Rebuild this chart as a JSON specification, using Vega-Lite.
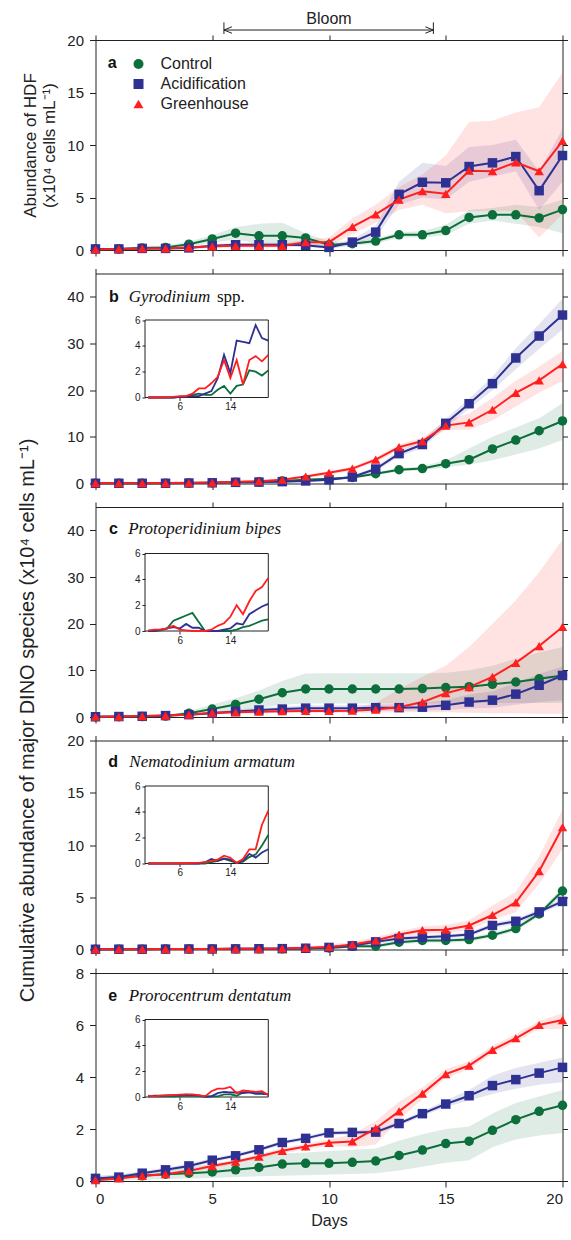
{
"$schema": "https://vega.github.io/schema/vega-lite/v6.json",
"autosize": {"type": "pad"},
"padding": {"left": 16.5, "top": 10, "right": 2, "bottom": 8},
"background": "white",
"config": {
  "view": {"stroke": "#222", "strokeWidth": 1},
  "axis": {"grid": false, "labelFont": "Liberation Sans", "titleFont": "Liberation Sans", "labelColor": "#222", "titleColor": "#222", "tickColor": "#222", "titleFontWeight": "normal", "labelFontSize": 15, "titleFontSize": 17, "tickWidth": 1},
  "text": {"font": "Liberation Sans", "color": "#111"}
},
"datasets": {
"main": [
{"p":"a","s":"Control","d":0,"v":0.1,"lo":0,"hi":0.2},{"p":"a","s":"Control","d":1,"v":0.1,"lo":0,"hi":0.2},{"p":"a","s":"Control","d":2,"v":0.2,"lo":0.05,"hi":0.35},{"p":"a","s":"Control","d":3,"v":0.25,"lo":0.1,"hi":0.45},{"p":"a","s":"Control","d":4,"v":0.55,"lo":0.3,"hi":0.8},{"p":"a","s":"Control","d":5,"v":1.05,"lo":0.7,"hi":1.4},{"p":"a","s":"Control","d":6,"v":1.6,"lo":1.0,"hi":2.2},{"p":"a","s":"Control","d":7,"v":1.35,"lo":0.6,"hi":2.5},{"p":"a","s":"Control","d":8,"v":1.35,"lo":0.5,"hi":2.6},{"p":"a","s":"Control","d":9,"v":1.15,"lo":0.7,"hi":1.6},{"p":"a","s":"Control","d":10,"v":0.5,"lo":0.2,"hi":0.8},{"p":"a","s":"Control","d":11,"v":0.6,"lo":0.4,"hi":0.8},{"p":"a","s":"Control","d":12,"v":0.85,"lo":0.6,"hi":1.1},{"p":"a","s":"Control","d":13,"v":1.45,"lo":1.2,"hi":1.7},{"p":"a","s":"Control","d":14,"v":1.45,"lo":1.2,"hi":1.8},{"p":"a","s":"Control","d":15,"v":1.85,"lo":1.4,"hi":2.4},{"p":"a","s":"Control","d":16,"v":3.1,"lo":2.5,"hi":3.8},{"p":"a","s":"Control","d":17,"v":3.35,"lo":2.8,"hi":4.0},{"p":"a","s":"Control","d":18,"v":3.35,"lo":2.5,"hi":4.3},{"p":"a","s":"Control","d":19,"v":3.05,"lo":2.2,"hi":4.1},{"p":"a","s":"Control","d":20,"v":3.85,"lo":1.6,"hi":4.8},
{"p":"a","s":"Acidification","d":0,"v":0.1,"lo":0,"hi":0.2},{"p":"a","s":"Acidification","d":1,"v":0.1,"lo":0,"hi":0.2},{"p":"a","s":"Acidification","d":2,"v":0.15,"lo":0.05,"hi":0.25},{"p":"a","s":"Acidification","d":3,"v":0.15,"lo":0.05,"hi":0.25},{"p":"a","s":"Acidification","d":4,"v":0.2,"lo":0.1,"hi":0.3},{"p":"a","s":"Acidification","d":5,"v":0.4,"lo":0.25,"hi":0.55},{"p":"a","s":"Acidification","d":6,"v":0.5,"lo":0.3,"hi":0.7},{"p":"a","s":"Acidification","d":7,"v":0.5,"lo":0.3,"hi":0.7},{"p":"a","s":"Acidification","d":8,"v":0.5,"lo":0.3,"hi":0.7},{"p":"a","s":"Acidification","d":9,"v":0.45,"lo":0.3,"hi":0.6},{"p":"a","s":"Acidification","d":10,"v":0.25,"lo":0.1,"hi":0.4},{"p":"a","s":"Acidification","d":11,"v":0.75,"lo":0.5,"hi":1.0},{"p":"a","s":"Acidification","d":12,"v":1.7,"lo":1.2,"hi":2.3},{"p":"a","s":"Acidification","d":13,"v":5.3,"lo":4.3,"hi":6.5},{"p":"a","s":"Acidification","d":14,"v":6.45,"lo":5.0,"hi":8.3},{"p":"a","s":"Acidification","d":15,"v":6.4,"lo":4.8,"hi":8.0},{"p":"a","s":"Acidification","d":16,"v":7.95,"lo":6.5,"hi":9.8},{"p":"a","s":"Acidification","d":17,"v":8.3,"lo":7.0,"hi":10.0},{"p":"a","s":"Acidification","d":18,"v":8.9,"lo":7.5,"hi":10.5},{"p":"a","s":"Acidification","d":19,"v":5.65,"lo":3.8,"hi":7.5},{"p":"a","s":"Acidification","d":20,"v":9.0,"lo":6.5,"hi":11.5},
{"p":"a","s":"Greenhouse","d":0,"v":0.05,"lo":0,"hi":0.1},{"p":"a","s":"Greenhouse","d":1,"v":0.1,"lo":0,"hi":0.2},{"p":"a","s":"Greenhouse","d":2,"v":0.15,"lo":0.05,"hi":0.25},{"p":"a","s":"Greenhouse","d":3,"v":0.15,"lo":0.05,"hi":0.25},{"p":"a","s":"Greenhouse","d":4,"v":0.25,"lo":0.1,"hi":0.4},{"p":"a","s":"Greenhouse","d":5,"v":0.35,"lo":0.2,"hi":0.5},{"p":"a","s":"Greenhouse","d":6,"v":0.4,"lo":0.25,"hi":0.55},{"p":"a","s":"Greenhouse","d":7,"v":0.4,"lo":0.25,"hi":0.55},{"p":"a","s":"Greenhouse","d":8,"v":0.4,"lo":0.25,"hi":0.6},{"p":"a","s":"Greenhouse","d":9,"v":0.75,"lo":0.5,"hi":1.0},{"p":"a","s":"Greenhouse","d":10,"v":0.75,"lo":0.4,"hi":1.2},{"p":"a","s":"Greenhouse","d":11,"v":2.2,"lo":1.5,"hi":3.0},{"p":"a","s":"Greenhouse","d":12,"v":3.4,"lo":2.6,"hi":4.3},{"p":"a","s":"Greenhouse","d":13,"v":4.8,"lo":3.8,"hi":6.0},{"p":"a","s":"Greenhouse","d":14,"v":5.6,"lo":4.3,"hi":7.2},{"p":"a","s":"Greenhouse","d":15,"v":5.35,"lo":3.5,"hi":9.0},{"p":"a","s":"Greenhouse","d":16,"v":7.55,"lo":3.7,"hi":12.2},{"p":"a","s":"Greenhouse","d":17,"v":7.5,"lo":3.7,"hi":12.3},{"p":"a","s":"Greenhouse","d":18,"v":8.35,"lo":3.7,"hi":13.1},{"p":"a","s":"Greenhouse","d":19,"v":7.5,"lo":1.2,"hi":13.6},{"p":"a","s":"Greenhouse","d":20,"v":10.4,"lo":3.4,"hi":16.9},
{"p":"b","s":"Control","d":0,"v":0.05,"lo":0,"hi":0.1},{"p":"b","s":"Control","d":1,"v":0.05,"lo":0,"hi":0.1},{"p":"b","s":"Control","d":2,"v":0.05,"lo":0,"hi":0.1},{"p":"b","s":"Control","d":3,"v":0.05,"lo":0,"hi":0.1},{"p":"b","s":"Control","d":4,"v":0.1,"lo":0,"hi":0.2},{"p":"b","s":"Control","d":5,"v":0.15,"lo":0.05,"hi":0.25},{"p":"b","s":"Control","d":6,"v":0.25,"lo":0.1,"hi":0.4},{"p":"b","s":"Control","d":7,"v":0.35,"lo":0.2,"hi":0.5},{"p":"b","s":"Control","d":8,"v":0.55,"lo":0.35,"hi":0.75},{"p":"b","s":"Control","d":9,"v":0.8,"lo":0.55,"hi":1.05},{"p":"b","s":"Control","d":10,"v":1.0,"lo":0.7,"hi":1.3},{"p":"b","s":"Control","d":11,"v":1.3,"lo":1.0,"hi":1.6},{"p":"b","s":"Control","d":12,"v":2.1,"lo":1.8,"hi":2.4},{"p":"b","s":"Control","d":13,"v":2.95,"lo":2.6,"hi":3.3},{"p":"b","s":"Control","d":14,"v":3.2,"lo":2.8,"hi":3.7},{"p":"b","s":"Control","d":15,"v":4.25,"lo":3.5,"hi":5.0},{"p":"b","s":"Control","d":16,"v":5.1,"lo":4.0,"hi":7.5},{"p":"b","s":"Control","d":17,"v":7.4,"lo":5.0,"hi":10.0},{"p":"b","s":"Control","d":18,"v":9.3,"lo":6.2,"hi":12.0},{"p":"b","s":"Control","d":19,"v":11.3,"lo":7.5,"hi":14.0},{"p":"b","s":"Control","d":20,"v":13.4,"lo":9.3,"hi":17.2},
{"p":"b","s":"Acidification","d":0,"v":0.05,"lo":0,"hi":0.1},{"p":"b","s":"Acidification","d":1,"v":0.05,"lo":0,"hi":0.1},{"p":"b","s":"Acidification","d":2,"v":0.05,"lo":0,"hi":0.1},{"p":"b","s":"Acidification","d":3,"v":0.05,"lo":0,"hi":0.1},{"p":"b","s":"Acidification","d":4,"v":0.1,"lo":0,"hi":0.2},{"p":"b","s":"Acidification","d":5,"v":0.15,"lo":0.05,"hi":0.25},{"p":"b","s":"Acidification","d":6,"v":0.25,"lo":0.1,"hi":0.4},{"p":"b","s":"Acidification","d":7,"v":0.3,"lo":0.15,"hi":0.45},{"p":"b","s":"Acidification","d":8,"v":0.4,"lo":0.25,"hi":0.55},{"p":"b","s":"Acidification","d":9,"v":0.55,"lo":0.35,"hi":0.75},{"p":"b","s":"Acidification","d":10,"v":0.8,"lo":0.55,"hi":1.05},{"p":"b","s":"Acidification","d":11,"v":1.4,"lo":1.1,"hi":1.7},{"p":"b","s":"Acidification","d":12,"v":3.1,"lo":2.6,"hi":3.6},{"p":"b","s":"Acidification","d":13,"v":6.4,"lo":5.8,"hi":7.0},{"p":"b","s":"Acidification","d":14,"v":8.35,"lo":7.6,"hi":9.1},{"p":"b","s":"Acidification","d":15,"v":12.9,"lo":12.0,"hi":13.8},{"p":"b","s":"Acidification","d":16,"v":17.1,"lo":16.0,"hi":18.2},{"p":"b","s":"Acidification","d":17,"v":21.4,"lo":20.0,"hi":22.8},{"p":"b","s":"Acidification","d":18,"v":26.9,"lo":24.5,"hi":29.0},{"p":"b","s":"Acidification","d":19,"v":31.6,"lo":28.8,"hi":34.2},{"p":"b","s":"Acidification","d":20,"v":36.1,"lo":33.0,"hi":39.6},
{"p":"b","s":"Greenhouse","d":0,"v":0.05,"lo":0,"hi":0.1},{"p":"b","s":"Greenhouse","d":1,"v":0.05,"lo":0,"hi":0.1},{"p":"b","s":"Greenhouse","d":2,"v":0.07,"lo":0,"hi":0.15},{"p":"b","s":"Greenhouse","d":3,"v":0.1,"lo":0,"hi":0.2},{"p":"b","s":"Greenhouse","d":4,"v":0.15,"lo":0.05,"hi":0.25},{"p":"b","s":"Greenhouse","d":5,"v":0.2,"lo":0.1,"hi":0.3},{"p":"b","s":"Greenhouse","d":6,"v":0.35,"lo":0.2,"hi":0.5},{"p":"b","s":"Greenhouse","d":7,"v":0.5,"lo":0.3,"hi":0.7},{"p":"b","s":"Greenhouse","d":8,"v":0.8,"lo":0.55,"hi":1.05},{"p":"b","s":"Greenhouse","d":9,"v":1.5,"lo":1.2,"hi":1.8},{"p":"b","s":"Greenhouse","d":10,"v":2.3,"lo":1.9,"hi":2.7},{"p":"b","s":"Greenhouse","d":11,"v":3.2,"lo":2.8,"hi":3.6},{"p":"b","s":"Greenhouse","d":12,"v":5.1,"lo":4.6,"hi":5.6},{"p":"b","s":"Greenhouse","d":13,"v":7.8,"lo":7.2,"hi":8.4},{"p":"b","s":"Greenhouse","d":14,"v":9.1,"lo":8.5,"hi":9.8},{"p":"b","s":"Greenhouse","d":15,"v":12.4,"lo":11.5,"hi":13.5},{"p":"b","s":"Greenhouse","d":16,"v":13.1,"lo":11.5,"hi":15.0},{"p":"b","s":"Greenhouse","d":17,"v":15.8,"lo":13.5,"hi":18.3},{"p":"b","s":"Greenhouse","d":18,"v":19.4,"lo":16.5,"hi":22.0},{"p":"b","s":"Greenhouse","d":19,"v":22.1,"lo":19.5,"hi":25.0},{"p":"b","s":"Greenhouse","d":20,"v":25.6,"lo":21.9,"hi":28.4},
{"p":"c","s":"Control","d":0,"v":0.05,"lo":0,"hi":0.1},{"p":"c","s":"Control","d":1,"v":0.05,"lo":0,"hi":0.1},{"p":"c","s":"Control","d":2,"v":0.1,"lo":0,"hi":0.2},{"p":"c","s":"Control","d":3,"v":0.2,"lo":0.05,"hi":0.4},{"p":"c","s":"Control","d":4,"v":0.8,"lo":0.3,"hi":1.3},{"p":"c","s":"Control","d":5,"v":1.7,"lo":0.8,"hi":2.7},{"p":"c","s":"Control","d":6,"v":2.7,"lo":1.3,"hi":4.0},{"p":"c","s":"Control","d":7,"v":3.8,"lo":2.0,"hi":5.7},{"p":"c","s":"Control","d":8,"v":5.2,"lo":2.6,"hi":7.7},{"p":"c","s":"Control","d":9,"v":6.0,"lo":2.9,"hi":9.3},{"p":"c","s":"Control","d":10,"v":6.0,"lo":2.9,"hi":9.4},{"p":"c","s":"Control","d":11,"v":6.0,"lo":2.9,"hi":9.4},{"p":"c","s":"Control","d":12,"v":6.0,"lo":2.9,"hi":9.4},{"p":"c","s":"Control","d":13,"v":6.0,"lo":2.9,"hi":9.4},{"p":"c","s":"Control","d":14,"v":6.1,"lo":2.9,"hi":9.4},{"p":"c","s":"Control","d":15,"v":6.3,"lo":2.9,"hi":9.5},{"p":"c","s":"Control","d":16,"v":6.5,"lo":3.0,"hi":10.0},{"p":"c","s":"Control","d":17,"v":7.0,"lo":3.0,"hi":11.0},{"p":"c","s":"Control","d":18,"v":7.5,"lo":3.0,"hi":12.5},{"p":"c","s":"Control","d":19,"v":8.2,"lo":3.0,"hi":13.8},{"p":"c","s":"Control","d":20,"v":8.9,"lo":3.0,"hi":15.0},
{"p":"c","s":"Acidification","d":0,"v":0.05,"lo":0,"hi":0.1},{"p":"c","s":"Acidification","d":1,"v":0.1,"lo":0.05,"hi":0.15},{"p":"c","s":"Acidification","d":2,"v":0.15,"lo":0.1,"hi":0.2},{"p":"c","s":"Acidification","d":3,"v":0.3,"lo":0.15,"hi":0.45},{"p":"c","s":"Acidification","d":4,"v":0.5,"lo":0.3,"hi":0.7},{"p":"c","s":"Acidification","d":5,"v":0.8,"lo":0.5,"hi":1.1},{"p":"c","s":"Acidification","d":6,"v":1.2,"lo":0.8,"hi":1.6},{"p":"c","s":"Acidification","d":7,"v":1.5,"lo":1.0,"hi":2.0},{"p":"c","s":"Acidification","d":8,"v":1.7,"lo":1.2,"hi":2.2},{"p":"c","s":"Acidification","d":9,"v":1.9,"lo":1.3,"hi":2.5},{"p":"c","s":"Acidification","d":10,"v":1.9,"lo":1.3,"hi":2.5},{"p":"c","s":"Acidification","d":11,"v":1.9,"lo":1.3,"hi":2.5},{"p":"c","s":"Acidification","d":12,"v":2.0,"lo":1.3,"hi":2.7},{"p":"c","s":"Acidification","d":13,"v":2.0,"lo":1.3,"hi":2.8},{"p":"c","s":"Acidification","d":14,"v":2.1,"lo":1.4,"hi":3.0},{"p":"c","s":"Acidification","d":15,"v":2.5,"lo":1.5,"hi":3.6},{"p":"c","s":"Acidification","d":16,"v":3.2,"lo":1.8,"hi":4.8},{"p":"c","s":"Acidification","d":17,"v":3.6,"lo":2.0,"hi":5.5},{"p":"c","s":"Acidification","d":18,"v":4.9,"lo":2.6,"hi":7.3},{"p":"c","s":"Acidification","d":19,"v":6.8,"lo":3.2,"hi":9.2},{"p":"c","s":"Acidification","d":20,"v":8.9,"lo":3.6,"hi":10.8},
{"p":"c","s":"Greenhouse","d":0,"v":0.05,"lo":0,"hi":0.1},{"p":"c","s":"Greenhouse","d":1,"v":0.1,"lo":0.05,"hi":0.15},{"p":"c","s":"Greenhouse","d":2,"v":0.2,"lo":0.1,"hi":0.3},{"p":"c","s":"Greenhouse","d":3,"v":0.3,"lo":0.2,"hi":0.4},{"p":"c","s":"Greenhouse","d":4,"v":0.5,"lo":0.35,"hi":0.65},{"p":"c","s":"Greenhouse","d":5,"v":0.9,"lo":0.6,"hi":1.2},{"p":"c","s":"Greenhouse","d":6,"v":1.0,"lo":0.7,"hi":1.3},{"p":"c","s":"Greenhouse","d":7,"v":1.15,"lo":0.8,"hi":1.5},{"p":"c","s":"Greenhouse","d":8,"v":1.25,"lo":0.9,"hi":1.6},{"p":"c","s":"Greenhouse","d":9,"v":1.3,"lo":0.9,"hi":1.7},{"p":"c","s":"Greenhouse","d":10,"v":1.3,"lo":0.9,"hi":1.7},{"p":"c","s":"Greenhouse","d":11,"v":1.35,"lo":0.9,"hi":1.8},{"p":"c","s":"Greenhouse","d":12,"v":1.6,"lo":0.9,"hi":3.0},{"p":"c","s":"Greenhouse","d":13,"v":2.1,"lo":1.0,"hi":6.0},{"p":"c","s":"Greenhouse","d":14,"v":3.2,"lo":1.0,"hi":8.6},{"p":"c","s":"Greenhouse","d":15,"v":5.1,"lo":1.0,"hi":11.0},{"p":"c","s":"Greenhouse","d":16,"v":6.4,"lo":0.9,"hi":15.0},{"p":"c","s":"Greenhouse","d":17,"v":8.6,"lo":0.8,"hi":20.0},{"p":"c","s":"Greenhouse","d":18,"v":11.6,"lo":0.8,"hi":25.0},{"p":"c","s":"Greenhouse","d":19,"v":15.2,"lo":0.7,"hi":31.0},{"p":"c","s":"Greenhouse","d":20,"v":19.3,"lo":0.7,"hi":38.0},
{"p":"d","s":"Control","d":0,"v":0.02,"lo":0,"hi":0.1},{"p":"d","s":"Control","d":1,"v":0.03,"lo":0,"hi":0.1},{"p":"d","s":"Control","d":2,"v":0.03,"lo":0,"hi":0.1},{"p":"d","s":"Control","d":3,"v":0.04,"lo":0,"hi":0.1},{"p":"d","s":"Control","d":4,"v":0.05,"lo":0,"hi":0.1},{"p":"d","s":"Control","d":5,"v":0.05,"lo":0,"hi":0.1},{"p":"d","s":"Control","d":6,"v":0.06,"lo":0,"hi":0.15},{"p":"d","s":"Control","d":7,"v":0.07,"lo":0,"hi":0.15},{"p":"d","s":"Control","d":8,"v":0.08,"lo":0,"hi":0.15},{"p":"d","s":"Control","d":9,"v":0.1,"lo":0,"hi":0.2},{"p":"d","s":"Control","d":10,"v":0.15,"lo":0.05,"hi":0.25},{"p":"d","s":"Control","d":11,"v":0.3,"lo":0.15,"hi":0.45},{"p":"d","s":"Control","d":12,"v":0.32,"lo":0.15,"hi":0.5},{"p":"d","s":"Control","d":13,"v":0.7,"lo":0.5,"hi":0.9},{"p":"d","s":"Control","d":14,"v":0.86,"lo":0.65,"hi":1.05},{"p":"d","s":"Control","d":15,"v":0.86,"lo":0.65,"hi":1.05},{"p":"d","s":"Control","d":16,"v":0.95,"lo":0.75,"hi":1.15},{"p":"d","s":"Control","d":17,"v":1.37,"lo":1.15,"hi":1.6},{"p":"d","s":"Control","d":18,"v":2.0,"lo":1.75,"hi":2.25},{"p":"d","s":"Control","d":19,"v":3.4,"lo":3.15,"hi":3.65},{"p":"d","s":"Control","d":20,"v":5.6,"lo":5.25,"hi":5.95},
{"p":"d","s":"Acidification","d":0,"v":0.02,"lo":0,"hi":0.1},{"p":"d","s":"Acidification","d":1,"v":0.03,"lo":0,"hi":0.1},{"p":"d","s":"Acidification","d":2,"v":0.03,"lo":0,"hi":0.1},{"p":"d","s":"Acidification","d":3,"v":0.04,"lo":0,"hi":0.1},{"p":"d","s":"Acidification","d":4,"v":0.05,"lo":0,"hi":0.1},{"p":"d","s":"Acidification","d":5,"v":0.05,"lo":0,"hi":0.1},{"p":"d","s":"Acidification","d":6,"v":0.06,"lo":0,"hi":0.15},{"p":"d","s":"Acidification","d":7,"v":0.07,"lo":0,"hi":0.15},{"p":"d","s":"Acidification","d":8,"v":0.08,"lo":0,"hi":0.15},{"p":"d","s":"Acidification","d":9,"v":0.12,"lo":0,"hi":0.25},{"p":"d","s":"Acidification","d":10,"v":0.2,"lo":0.05,"hi":0.35},{"p":"d","s":"Acidification","d":11,"v":0.35,"lo":0.2,"hi":0.5},{"p":"d","s":"Acidification","d":12,"v":0.73,"lo":0.55,"hi":0.9},{"p":"d","s":"Acidification","d":13,"v":1.05,"lo":0.85,"hi":1.25},{"p":"d","s":"Acidification","d":14,"v":1.18,"lo":0.98,"hi":1.38},{"p":"d","s":"Acidification","d":15,"v":1.27,"lo":1.07,"hi":1.47},{"p":"d","s":"Acidification","d":16,"v":1.43,"lo":1.23,"hi":1.63},{"p":"d","s":"Acidification","d":17,"v":2.3,"lo":2.05,"hi":2.55},{"p":"d","s":"Acidification","d":18,"v":2.7,"lo":2.45,"hi":2.95},{"p":"d","s":"Acidification","d":19,"v":3.6,"lo":3.35,"hi":3.85},{"p":"d","s":"Acidification","d":20,"v":4.6,"lo":4.35,"hi":4.85},
{"p":"d","s":"Greenhouse","d":0,"v":0.02,"lo":0,"hi":0.1},{"p":"d","s":"Greenhouse","d":1,"v":0.03,"lo":0,"hi":0.1},{"p":"d","s":"Greenhouse","d":2,"v":0.03,"lo":0,"hi":0.1},{"p":"d","s":"Greenhouse","d":3,"v":0.04,"lo":0,"hi":0.1},{"p":"d","s":"Greenhouse","d":4,"v":0.05,"lo":0,"hi":0.1},{"p":"d","s":"Greenhouse","d":5,"v":0.05,"lo":0,"hi":0.1},{"p":"d","s":"Greenhouse","d":6,"v":0.06,"lo":0,"hi":0.15},{"p":"d","s":"Greenhouse","d":7,"v":0.07,"lo":0,"hi":0.2},{"p":"d","s":"Greenhouse","d":8,"v":0.1,"lo":0,"hi":0.25},{"p":"d","s":"Greenhouse","d":9,"v":0.16,"lo":0.05,"hi":0.3},{"p":"d","s":"Greenhouse","d":10,"v":0.25,"lo":0.1,"hi":0.45},{"p":"d","s":"Greenhouse","d":11,"v":0.48,"lo":0.3,"hi":0.75},{"p":"d","s":"Greenhouse","d":12,"v":0.86,"lo":0.6,"hi":1.2},{"p":"d","s":"Greenhouse","d":13,"v":1.43,"lo":1.15,"hi":1.75},{"p":"d","s":"Greenhouse","d":14,"v":1.85,"lo":1.5,"hi":2.2},{"p":"d","s":"Greenhouse","d":15,"v":1.9,"lo":1.5,"hi":2.35},{"p":"d","s":"Greenhouse","d":16,"v":2.3,"lo":1.9,"hi":2.8},{"p":"d","s":"Greenhouse","d":17,"v":3.3,"lo":2.8,"hi":4.2},{"p":"d","s":"Greenhouse","d":18,"v":4.5,"lo":3.6,"hi":5.5},{"p":"d","s":"Greenhouse","d":19,"v":7.5,"lo":6.3,"hi":8.9},{"p":"d","s":"Greenhouse","d":20,"v":11.7,"lo":9.6,"hi":13.4},
{"p":"e","s":"Control","d":0,"v":0.1,"lo":0,"hi":0.2},{"p":"e","s":"Control","d":1,"v":0.13,"lo":0.02,"hi":0.25},{"p":"e","s":"Control","d":2,"v":0.2,"lo":0.05,"hi":0.35},{"p":"e","s":"Control","d":3,"v":0.26,"lo":0.08,"hi":0.45},{"p":"e","s":"Control","d":4,"v":0.3,"lo":0.1,"hi":0.55},{"p":"e","s":"Control","d":5,"v":0.35,"lo":0.12,"hi":0.65},{"p":"e","s":"Control","d":6,"v":0.43,"lo":0.15,"hi":0.8},{"p":"e","s":"Control","d":7,"v":0.52,"lo":0.18,"hi":0.95},{"p":"e","s":"Control","d":8,"v":0.65,"lo":0.2,"hi":1.05},{"p":"e","s":"Control","d":9,"v":0.68,"lo":0.22,"hi":1.1},{"p":"e","s":"Control","d":10,"v":0.68,"lo":0.25,"hi":1.15},{"p":"e","s":"Control","d":11,"v":0.72,"lo":0.27,"hi":1.2},{"p":"e","s":"Control","d":12,"v":0.77,"lo":0.3,"hi":1.25},{"p":"e","s":"Control","d":13,"v":0.98,"lo":0.4,"hi":1.55},{"p":"e","s":"Control","d":14,"v":1.19,"lo":0.55,"hi":1.8},{"p":"e","s":"Control","d":15,"v":1.44,"lo":0.7,"hi":2.0},{"p":"e","s":"Control","d":16,"v":1.53,"lo":0.8,"hi":2.1},{"p":"e","s":"Control","d":17,"v":1.95,"lo":1.3,"hi":2.6},{"p":"e","s":"Control","d":18,"v":2.36,"lo":1.6,"hi":3.0},{"p":"e","s":"Control","d":19,"v":2.68,"lo":1.75,"hi":3.25},{"p":"e","s":"Control","d":20,"v":2.91,"lo":1.85,"hi":3.5},
{"p":"e","s":"Acidification","d":0,"v":0.1,"lo":0.02,"hi":0.18},{"p":"e","s":"Acidification","d":1,"v":0.15,"lo":0.07,"hi":0.23},{"p":"e","s":"Acidification","d":2,"v":0.3,"lo":0.22,"hi":0.38},{"p":"e","s":"Acidification","d":3,"v":0.43,"lo":0.35,"hi":0.51},{"p":"e","s":"Acidification","d":4,"v":0.58,"lo":0.5,"hi":0.66},{"p":"e","s":"Acidification","d":5,"v":0.8,"lo":0.72,"hi":0.88},{"p":"e","s":"Acidification","d":6,"v":0.97,"lo":0.89,"hi":1.05},{"p":"e","s":"Acidification","d":7,"v":1.2,"lo":1.12,"hi":1.28},{"p":"e","s":"Acidification","d":8,"v":1.48,"lo":1.4,"hi":1.56},{"p":"e","s":"Acidification","d":9,"v":1.64,"lo":1.56,"hi":1.72},{"p":"e","s":"Acidification","d":10,"v":1.85,"lo":1.77,"hi":1.93},{"p":"e","s":"Acidification","d":11,"v":1.87,"lo":1.79,"hi":1.95},{"p":"e","s":"Acidification","d":12,"v":1.88,"lo":1.8,"hi":1.96},{"p":"e","s":"Acidification","d":13,"v":2.21,"lo":2.12,"hi":2.3},{"p":"e","s":"Acidification","d":14,"v":2.59,"lo":2.5,"hi":2.68},{"p":"e","s":"Acidification","d":15,"v":2.96,"lo":2.85,"hi":3.1},{"p":"e","s":"Acidification","d":16,"v":3.28,"lo":3.1,"hi":3.5},{"p":"e","s":"Acidification","d":17,"v":3.67,"lo":3.35,"hi":4.05},{"p":"e","s":"Acidification","d":18,"v":3.9,"lo":3.55,"hi":4.35},{"p":"e","s":"Acidification","d":19,"v":4.15,"lo":3.7,"hi":4.55},{"p":"e","s":"Acidification","d":20,"v":4.37,"lo":3.8,"hi":4.75},
{"p":"e","s":"Greenhouse","d":0,"v":0.03,"lo":0,"hi":0.08},{"p":"e","s":"Greenhouse","d":1,"v":0.1,"lo":0.05,"hi":0.15},{"p":"e","s":"Greenhouse","d":2,"v":0.2,"lo":0.15,"hi":0.25},{"p":"e","s":"Greenhouse","d":3,"v":0.26,"lo":0.2,"hi":0.32},{"p":"e","s":"Greenhouse","d":4,"v":0.39,"lo":0.32,"hi":0.46},{"p":"e","s":"Greenhouse","d":5,"v":0.58,"lo":0.5,"hi":0.66},{"p":"e","s":"Greenhouse","d":6,"v":0.74,"lo":0.66,"hi":0.82},{"p":"e","s":"Greenhouse","d":7,"v":0.94,"lo":0.85,"hi":1.03},{"p":"e","s":"Greenhouse","d":8,"v":1.16,"lo":1.06,"hi":1.26},{"p":"e","s":"Greenhouse","d":9,"v":1.33,"lo":1.22,"hi":1.44},{"p":"e","s":"Greenhouse","d":10,"v":1.47,"lo":1.35,"hi":1.6},{"p":"e","s":"Greenhouse","d":11,"v":1.52,"lo":1.3,"hi":1.8},{"p":"e","s":"Greenhouse","d":12,"v":2.02,"lo":1.4,"hi":2.3},{"p":"e","s":"Greenhouse","d":13,"v":2.68,"lo":2.35,"hi":3.05},{"p":"e","s":"Greenhouse","d":14,"v":3.36,"lo":3.15,"hi":3.6},{"p":"e","s":"Greenhouse","d":15,"v":4.11,"lo":3.95,"hi":4.3},{"p":"e","s":"Greenhouse","d":16,"v":4.44,"lo":4.3,"hi":4.6},{"p":"e","s":"Greenhouse","d":17,"v":5.04,"lo":4.9,"hi":5.2},{"p":"e","s":"Greenhouse","d":18,"v":5.49,"lo":5.35,"hi":5.65},{"p":"e","s":"Greenhouse","d":19,"v":6.0,"lo":5.85,"hi":6.15},{"p":"e","s":"Greenhouse","d":20,"v":6.19,"lo":5.85,"hi":6.45}
],
"inset": [
{"p":"b","s":"Control","d":1,"v":0},{"p":"b","s":"Control","d":2,"v":0},{"p":"b","s":"Control","d":3,"v":0},{"p":"b","s":"Control","d":4,"v":0},{"p":"b","s":"Control","d":5,"v":0},{"p":"b","s":"Control","d":6,"v":0.05},{"p":"b","s":"Control","d":7,"v":0.1},{"p":"b","s":"Control","d":8,"v":0.2},{"p":"b","s":"Control","d":9,"v":0.3},{"p":"b","s":"Control","d":10,"v":0.2},{"p":"b","s":"Control","d":11,"v":0.2},{"p":"b","s":"Control","d":12,"v":0.6},{"p":"b","s":"Control","d":13,"v":0.9},{"p":"b","s":"Control","d":14,"v":0.3},{"p":"b","s":"Control","d":15,"v":0.9},{"p":"b","s":"Control","d":16,"v":1.0},{"p":"b","s":"Control","d":17,"v":2.1},{"p":"b","s":"Control","d":18,"v":2.0},{"p":"b","s":"Control","d":19,"v":1.7},{"p":"b","s":"Control","d":20,"v":2.1},
{"p":"b","s":"Acidification","d":1,"v":0},{"p":"b","s":"Acidification","d":2,"v":0},{"p":"b","s":"Acidification","d":3,"v":0},{"p":"b","s":"Acidification","d":4,"v":0},{"p":"b","s":"Acidification","d":5,"v":0},{"p":"b","s":"Acidification","d":6,"v":0.05},{"p":"b","s":"Acidification","d":7,"v":0.05},{"p":"b","s":"Acidification","d":8,"v":0.1},{"p":"b","s":"Acidification","d":9,"v":0.1},{"p":"b","s":"Acidification","d":10,"v":0.3},{"p":"b","s":"Acidification","d":11,"v":0.5},{"p":"b","s":"Acidification","d":12,"v":1.5},{"p":"b","s":"Acidification","d":13,"v":3.3},{"p":"b","s":"Acidification","d":14,"v":1.9},{"p":"b","s":"Acidification","d":15,"v":4.4},{"p":"b","s":"Acidification","d":16,"v":4.3},{"p":"b","s":"Acidification","d":17,"v":4.2},{"p":"b","s":"Acidification","d":18,"v":5.6},{"p":"b","s":"Acidification","d":19,"v":4.6},{"p":"b","s":"Acidification","d":20,"v":4.4},
{"p":"b","s":"Greenhouse","d":1,"v":0},{"p":"b","s":"Greenhouse","d":2,"v":0},{"p":"b","s":"Greenhouse","d":3,"v":0},{"p":"b","s":"Greenhouse","d":4,"v":0},{"p":"b","s":"Greenhouse","d":5,"v":0.05},{"p":"b","s":"Greenhouse","d":6,"v":0.1},{"p":"b","s":"Greenhouse","d":7,"v":0.1},{"p":"b","s":"Greenhouse","d":8,"v":0.3},{"p":"b","s":"Greenhouse","d":9,"v":0.7},{"p":"b","s":"Greenhouse","d":10,"v":0.7},{"p":"b","s":"Greenhouse","d":11,"v":1.1},{"p":"b","s":"Greenhouse","d":12,"v":1.6},{"p":"b","s":"Greenhouse","d":13,"v":2.9},{"p":"b","s":"Greenhouse","d":14,"v":1.5},{"p":"b","s":"Greenhouse","d":15,"v":2.9},{"p":"b","s":"Greenhouse","d":16,"v":1.0},{"p":"b","s":"Greenhouse","d":17,"v":2.9},{"p":"b","s":"Greenhouse","d":18,"v":3.2},{"p":"b","s":"Greenhouse","d":19,"v":2.8},{"p":"b","s":"Greenhouse","d":20,"v":3.3},
{"p":"c","s":"Control","d":1,"v":0},{"p":"c","s":"Control","d":2,"v":0},{"p":"c","s":"Control","d":3,"v":0.05},{"p":"c","s":"Control","d":4,"v":0.2},{"p":"c","s":"Control","d":5,"v":0.8},{"p":"c","s":"Control","d":6,"v":1.0},{"p":"c","s":"Control","d":7,"v":1.2},{"p":"c","s":"Control","d":8,"v":1.4},{"p":"c","s":"Control","d":9,"v":0.7},{"p":"c","s":"Control","d":10,"v":0},{"p":"c","s":"Control","d":11,"v":0},{"p":"c","s":"Control","d":12,"v":0},{"p":"c","s":"Control","d":13,"v":0},{"p":"c","s":"Control","d":14,"v":0},{"p":"c","s":"Control","d":15,"v":0.1},{"p":"c","s":"Control","d":16,"v":0.3},{"p":"c","s":"Control","d":17,"v":0.4},{"p":"c","s":"Control","d":18,"v":0.6},{"p":"c","s":"Control","d":19,"v":0.8},{"p":"c","s":"Control","d":20,"v":0.9},
{"p":"c","s":"Acidification","d":1,"v":0},{"p":"c","s":"Acidification","d":2,"v":0},{"p":"c","s":"Acidification","d":3,"v":0.1},{"p":"c","s":"Acidification","d":4,"v":0.2},{"p":"c","s":"Acidification","d":5,"v":0.3},{"p":"c","s":"Acidification","d":6,"v":0.2},{"p":"c","s":"Acidification","d":7,"v":0.55},{"p":"c","s":"Acidification","d":8,"v":0.25},{"p":"c","s":"Acidification","d":9,"v":0.25},{"p":"c","s":"Acidification","d":10,"v":0},{"p":"c","s":"Acidification","d":11,"v":0},{"p":"c","s":"Acidification","d":12,"v":0},{"p":"c","s":"Acidification","d":13,"v":0.1},{"p":"c","s":"Acidification","d":14,"v":0.2},{"p":"c","s":"Acidification","d":15,"v":0.6},{"p":"c","s":"Acidification","d":16,"v":0.5},{"p":"c","s":"Acidification","d":17,"v":1.3},{"p":"c","s":"Acidification","d":18,"v":1.6},{"p":"c","s":"Acidification","d":19,"v":1.9},{"p":"c","s":"Acidification","d":20,"v":2.1},
{"p":"c","s":"Greenhouse","d":1,"v":0.05},{"p":"c","s":"Greenhouse","d":2,"v":0.1},{"p":"c","s":"Greenhouse","d":3,"v":0.1},{"p":"c","s":"Greenhouse","d":4,"v":0.2},{"p":"c","s":"Greenhouse","d":5,"v":0.4},{"p":"c","s":"Greenhouse","d":6,"v":0.1},{"p":"c","s":"Greenhouse","d":7,"v":0.05},{"p":"c","s":"Greenhouse","d":8,"v":0},{"p":"c","s":"Greenhouse","d":9,"v":0},{"p":"c","s":"Greenhouse","d":10,"v":0},{"p":"c","s":"Greenhouse","d":11,"v":0.1},{"p":"c","s":"Greenhouse","d":12,"v":0.4},{"p":"c","s":"Greenhouse","d":13,"v":0.6},{"p":"c","s":"Greenhouse","d":14,"v":1.1},{"p":"c","s":"Greenhouse","d":15,"v":2.0},{"p":"c","s":"Greenhouse","d":16,"v":1.3},{"p":"c","s":"Greenhouse","d":17,"v":2.3},{"p":"c","s":"Greenhouse","d":18,"v":3.1},{"p":"c","s":"Greenhouse","d":19,"v":3.4},{"p":"c","s":"Greenhouse","d":20,"v":4.1},
{"p":"d","s":"Control","d":1,"v":0},{"p":"d","s":"Control","d":2,"v":0},{"p":"d","s":"Control","d":3,"v":0},{"p":"d","s":"Control","d":4,"v":0},{"p":"d","s":"Control","d":5,"v":0},{"p":"d","s":"Control","d":6,"v":0},{"p":"d","s":"Control","d":7,"v":0},{"p":"d","s":"Control","d":8,"v":0},{"p":"d","s":"Control","d":9,"v":0},{"p":"d","s":"Control","d":10,"v":0},{"p":"d","s":"Control","d":11,"v":0.1},{"p":"d","s":"Control","d":12,"v":0.2},{"p":"d","s":"Control","d":13,"v":0.35},{"p":"d","s":"Control","d":14,"v":0.2},{"p":"d","s":"Control","d":15,"v":0.05},{"p":"d","s":"Control","d":16,"v":0.15},{"p":"d","s":"Control","d":17,"v":0.5},{"p":"d","s":"Control","d":18,"v":0.7},{"p":"d","s":"Control","d":19,"v":1.4},{"p":"d","s":"Control","d":20,"v":2.2},
{"p":"d","s":"Acidification","d":1,"v":0},{"p":"d","s":"Acidification","d":2,"v":0},{"p":"d","s":"Acidification","d":3,"v":0},{"p":"d","s":"Acidification","d":4,"v":0},{"p":"d","s":"Acidification","d":5,"v":0},{"p":"d","s":"Acidification","d":6,"v":0},{"p":"d","s":"Acidification","d":7,"v":0},{"p":"d","s":"Acidification","d":8,"v":0},{"p":"d","s":"Acidification","d":9,"v":0},{"p":"d","s":"Acidification","d":10,"v":0.1},{"p":"d","s":"Acidification","d":11,"v":0.35},{"p":"d","s":"Acidification","d":12,"v":0.2},{"p":"d","s":"Acidification","d":13,"v":0.4},{"p":"d","s":"Acidification","d":14,"v":0.3},{"p":"d","s":"Acidification","d":15,"v":0.05},{"p":"d","s":"Acidification","d":16,"v":0.2},{"p":"d","s":"Acidification","d":17,"v":0.75},{"p":"d","s":"Acidification","d":18,"v":0.45},{"p":"d","s":"Acidification","d":19,"v":0.85},{"p":"d","s":"Acidification","d":20,"v":1.1},
{"p":"d","s":"Greenhouse","d":1,"v":0},{"p":"d","s":"Greenhouse","d":2,"v":0},{"p":"d","s":"Greenhouse","d":3,"v":0},{"p":"d","s":"Greenhouse","d":4,"v":0},{"p":"d","s":"Greenhouse","d":5,"v":0},{"p":"d","s":"Greenhouse","d":6,"v":0.02},{"p":"d","s":"Greenhouse","d":7,"v":0.02},{"p":"d","s":"Greenhouse","d":8,"v":0.05},{"p":"d","s":"Greenhouse","d":9,"v":0.05},{"p":"d","s":"Greenhouse","d":10,"v":0.1},{"p":"d","s":"Greenhouse","d":11,"v":0.2},{"p":"d","s":"Greenhouse","d":12,"v":0.3},{"p":"d","s":"Greenhouse","d":13,"v":0.6},{"p":"d","s":"Greenhouse","d":14,"v":0.45},{"p":"d","s":"Greenhouse","d":15,"v":0.05},{"p":"d","s":"Greenhouse","d":16,"v":0.35},{"p":"d","s":"Greenhouse","d":17,"v":1.1},{"p":"d","s":"Greenhouse","d":18,"v":1.1},{"p":"d","s":"Greenhouse","d":19,"v":3.0},{"p":"d","s":"Greenhouse","d":20,"v":4.1},
{"p":"e","s":"Control","d":1,"v":0.05},{"p":"e","s":"Control","d":2,"v":0.05},{"p":"e","s":"Control","d":3,"v":0.05},{"p":"e","s":"Control","d":4,"v":0.05},{"p":"e","s":"Control","d":5,"v":0.05},{"p":"e","s":"Control","d":6,"v":0.07},{"p":"e","s":"Control","d":7,"v":0.08},{"p":"e","s":"Control","d":8,"v":0.1},{"p":"e","s":"Control","d":9,"v":0.08},{"p":"e","s":"Control","d":10,"v":0},{"p":"e","s":"Control","d":11,"v":0.05},{"p":"e","s":"Control","d":12,"v":0.05},{"p":"e","s":"Control","d":13,"v":0.2},{"p":"e","s":"Control","d":14,"v":0.2},{"p":"e","s":"Control","d":15,"v":0.1},{"p":"e","s":"Control","d":16,"v":0.35},{"p":"e","s":"Control","d":17,"v":0.4},{"p":"e","s":"Control","d":18,"v":0.3},{"p":"e","s":"Control","d":19,"v":0.3},{"p":"e","s":"Control","d":20,"v":0.2},
{"p":"e","s":"Acidification","d":1,"v":0.05},{"p":"e","s":"Acidification","d":2,"v":0.1},{"p":"e","s":"Acidification","d":3,"v":0.1},{"p":"e","s":"Acidification","d":4,"v":0.12},{"p":"e","s":"Acidification","d":5,"v":0.15},{"p":"e","s":"Acidification","d":6,"v":0.15},{"p":"e","s":"Acidification","d":7,"v":0.18},{"p":"e","s":"Acidification","d":8,"v":0.15},{"p":"e","s":"Acidification","d":9,"v":0.12},{"p":"e","s":"Acidification","d":10,"v":0.05},{"p":"e","s":"Acidification","d":11,"v":0.05},{"p":"e","s":"Acidification","d":12,"v":0.3},{"p":"e","s":"Acidification","d":13,"v":0.4},{"p":"e","s":"Acidification","d":14,"v":0.35},{"p":"e","s":"Acidification","d":15,"v":0.35},{"p":"e","s":"Acidification","d":16,"v":0.3},{"p":"e","s":"Acidification","d":17,"v":0.35},{"p":"e","s":"Acidification","d":18,"v":0.25},{"p":"e","s":"Acidification","d":19,"v":0.25},{"p":"e","s":"Acidification","d":20,"v":0.2},
{"p":"e","s":"Greenhouse","d":1,"v":0.1},{"p":"e","s":"Greenhouse","d":2,"v":0.05},{"p":"e","s":"Greenhouse","d":3,"v":0.1},{"p":"e","s":"Greenhouse","d":4,"v":0.12},{"p":"e","s":"Greenhouse","d":5,"v":0.15},{"p":"e","s":"Greenhouse","d":6,"v":0.18},{"p":"e","s":"Greenhouse","d":7,"v":0.2},{"p":"e","s":"Greenhouse","d":8,"v":0.2},{"p":"e","s":"Greenhouse","d":9,"v":0.15},{"p":"e","s":"Greenhouse","d":10,"v":0.05},{"p":"e","s":"Greenhouse","d":11,"v":0.45},{"p":"e","s":"Greenhouse","d":12,"v":0.65},{"p":"e","s":"Greenhouse","d":13,"v":0.65},{"p":"e","s":"Greenhouse","d":14,"v":0.78},{"p":"e","s":"Greenhouse","d":15,"v":0.3},{"p":"e","s":"Greenhouse","d":16,"v":0.5},{"p":"e","s":"Greenhouse","d":17,"v":0.45},{"p":"e","s":"Greenhouse","d":18,"v":0.4},{"p":"e","s":"Greenhouse","d":19,"v":0.45},{"p":"e","s":"Greenhouse","d":20,"v":0.15}
]
},
"bounds": "flush",
"spacing": 23.5,
"resolve": {"scale": {"x": "independent", "y": "independent", "color": "independent", "shape": "independent", "fill": "independent", "stroke": "independent"}, "legend": {"color": "independent", "shape": "independent"}},
"vconcat": [
{
 "width": 467, "height": 210,
 "layer": [
  {
   "data": {"name": "main"},
   "transform": [{"filter": "datum.p == 'a'"}],
   "layer": [
    {"mark": {"type": "area", "opacity": 0.13}, "encoding": {
      "x": {"field": "d", "type": "quantitative", "scale": {"domain": [0, 20], "nice": false, "zero": false}, "axis": {"orient": "bottom", "values": [0,5,10,15,20], "labels": false, "title": null, "domain": false, "tickSize": 6}},
      "y": {"field": "lo", "type": "quantitative", "scale": {"domain": [0, 20], "nice": false, "zero": false}, "axis": {"orient": "left", "values": [0,5,10,15,20], "domain": false, "tickSize": 6, "labelPadding": 6, "title": ["Abundance of HDF", "(x10\u2074 cells mL\u207b\u00b9)"], "titleFontSize": 17, "titleLineHeight": 19, "titlePadding": 8}},
      "y2": {"field": "hi"},
      "fill": {"field": "s", "type": "nominal", "scale": {"domain": ["Greenhouse","Acidification","Control"], "range": ["#ff1f1f","#2e3192","#0b6e3b"]}, "legend": null}}},
    {"mark": {"type": "line", "strokeWidth": 2}, "encoding": {
      "x": {"field": "d", "type": "quantitative", "scale": {"domain": [0, 20], "nice": false, "zero": false}, "axis": null},
      "y": {"field": "v", "type": "quantitative", "scale": {"domain": [0, 20], "nice": false, "zero": false}, "axis": null},
      "stroke": {"field": "s", "type": "nominal", "scale": {"domain": ["Greenhouse","Acidification","Control"], "range": ["#ff1f1f","#2e3192","#0b6e3b"]}, "legend": null}}},
    {"mark": {"type": "point", "filled": true, "size": 90, "opacity": 1}, "encoding": {
      "x": {"field": "d", "type": "quantitative", "scale": {"domain": [0, 20], "nice": false, "zero": false}, "axis": null},
      "y": {"field": "v", "type": "quantitative", "scale": {"domain": [0, 20], "nice": false, "zero": false}, "axis": null},
      "color": {"field": "s", "type": "nominal", "scale": {"domain": ["Control","Acidification","Greenhouse"], "range": ["#0b6e3b","#2e3192","#ff1f1f"]}, "legend": {"orient": "none", "legendX": 35, "legendY": 16, "title": null, "labelFontSize": 16, "labelFont": "Liberation Sans", "labelColor": "#222", "symbolSize": 100, "labelOffset": 14, "rowPadding": 4, "symbolStrokeWidth": 0}},
      "shape": {"field": "s", "type": "nominal", "scale": {"domain": ["Control","Acidification","Greenhouse"], "range": ["circle","square","triangle-up"]}, "legend": {"orient": "none", "legendX": 35, "legendY": 16, "title": null, "labelFontSize": 16, "labelFont": "Liberation Sans", "labelColor": "#222", "symbolSize": 100, "labelOffset": 14, "rowPadding": 4, "symbolStrokeWidth": 0}}}},
    {"data": {"values": [{}]}, "mark": {"type": "point", "opacity": 0}, "encoding": {
      "x": {"datum": 0, "type": "quantitative", "scale": {"domain": [0, 20], "nice": false, "zero": false}, "axis": {"orient": "top", "values": [0,5,10,15,20], "labels": false, "title": null, "domain": false, "tickSize": 5}},
      "y": {"datum": 0, "type": "quantitative", "scale": {"domain": [0, 20], "nice": false, "zero": false}, "axis": {"orient": "right", "values": [0,5,10,15,20], "labels": false, "title": null, "domain": false, "tickSize": 5}}}},
    {"data": {"values": [{}]}, "mark": {"type": "text", "text": "a", "fontWeight": "bold", "fontSize": 16, "align": "left", "baseline": "alphabetic"}, "encoding": {
      "x": {"datum": 0.52, "type": "quantitative", "scale": {"domain": [0, 20], "nice": false, "zero": false}, "axis": null},
      "y": {"datum": 17.33, "type": "quantitative", "scale": {"domain": [0, 20], "nice": false, "zero": false}, "axis": null}}},
    {"data": {"values": [{}]}, "mark": {"type": "text", "text": "Bloom", "fontSize": 16, "align": "center", "baseline": "alphabetic", "color": "#222"}, "encoding": {
      "x": {"datum": 10, "type": "quantitative", "scale": {"domain": [0, 20], "nice": false, "zero": false}, "axis": null},
      "y": {"datum": 21.52, "type": "quantitative", "scale": {"domain": [0, 20], "nice": false, "zero": false}, "axis": null}}},
    {"data": {"values": [{}]}, "mark": {"type": "rule", "color": "#222", "strokeWidth": 1}, "encoding": {
      "x": {"datum": 5.5, "type": "quantitative", "scale": {"domain": [0, 20], "nice": false, "zero": false}, "axis": null},
      "x2": {"datum": 14.47},
      "y": {"datum": 20.95, "type": "quantitative", "scale": {"domain": [0, 20], "nice": false, "zero": false}, "axis": null}}},
    {"data": {"values": [{}]}, "mark": {"type": "rule", "color": "#222", "strokeWidth": 1}, "encoding": {
      "x": {"datum": 5.5, "type": "quantitative", "scale": {"domain": [0, 20], "nice": false, "zero": false}, "axis": null},
      "y": {"datum": 20.57, "type": "quantitative", "scale": {"domain": [0, 20], "nice": false, "zero": false}, "axis": null},
      "y2": {"datum": 21.68}}},
    {"data": {"values": [{}]}, "mark": {"type": "rule", "color": "#222", "strokeWidth": 1}, "encoding": {
      "x": {"datum": 14.47, "type": "quantitative", "scale": {"domain": [0, 20], "nice": false, "zero": false}, "axis": null},
      "y": {"datum": 20.57, "type": "quantitative", "scale": {"domain": [0, 20], "nice": false, "zero": false}, "axis": null},
      "y2": {"datum": 21.68}}},
    {"data": {"values": [{}]}, "mark": {"type": "point", "shape": "M 2 -0.8 L 0 0 L 2 0.8", "filled": false, "stroke": "#222", "strokeWidth": 1, "size": 64, "opacity": 1}, "encoding": {
      "x": {"datum": 5.5, "type": "quantitative", "scale": {"domain": [0, 20], "nice": false, "zero": false}, "axis": null},
      "y": {"datum": 20.95, "type": "quantitative", "scale": {"domain": [0, 20], "nice": false, "zero": false}, "axis": null}}},
    {"data": {"values": [{}]}, "mark": {"type": "point", "shape": "M -2 -0.8 L 0 0 L -2 0.8", "filled": false, "stroke": "#222", "strokeWidth": 1, "size": 64, "opacity": 1}, "encoding": {
      "x": {"datum": 14.47, "type": "quantitative", "scale": {"domain": [0, 20], "nice": false, "zero": false}, "axis": null},
      "y": {"datum": 20.95, "type": "quantitative", "scale": {"domain": [0, 20], "nice": false, "zero": false}, "axis": null}}}
   ],
   "resolve": {"axis": {"x": "independent", "y": "independent"}, "legend": {"fill": "independent", "stroke": "independent", "color": "independent", "shape": "independent"}}
  }
 ]
},
{
 "width": 467, "height": 210,
 "layer": [
  {
   "data": {"name": "main"},
   "transform": [{"filter": "datum.p == 'b'"}],
   "layer": [
    {"mark": {"type": "area", "opacity": 0.13}, "encoding": {
      "x": {"field": "d", "type": "quantitative", "scale": {"domain": [0, 20], "nice": false, "zero": false}, "axis": {"orient": "bottom", "values": [0,5,10,15,20], "labels": false, "title": null, "domain": false, "tickSize": 6}},
      "y": {"field": "lo", "type": "quantitative", "scale": {"domain": [0, 45], "nice": false, "zero": false}, "axis": {"orient": "left", "values": [0,10,20,30,40], "domain": false, "tickSize": 6, "labelPadding": 6, "title": null}},
      "y2": {"field": "hi"},
      "fill": {"field": "s", "type": "nominal", "scale": {"domain": ["Greenhouse","Acidification","Control"], "range": ["#ff1f1f","#2e3192","#0b6e3b"]}, "legend": null}}},
    {"mark": {"type": "line", "strokeWidth": 2}, "encoding": {
      "x": {"field": "d", "type": "quantitative", "scale": {"domain": [0, 20], "nice": false, "zero": false}, "axis": null},
      "y": {"field": "v", "type": "quantitative", "scale": {"domain": [0, 45], "nice": false, "zero": false}, "axis": null},
      "stroke": {"field": "s", "type": "nominal", "scale": {"domain": ["Greenhouse","Acidification","Control"], "range": ["#ff1f1f","#2e3192","#0b6e3b"]}, "legend": null}}},
    {"mark": {"type": "point", "filled": true, "size": 90, "opacity": 1}, "encoding": {
      "x": {"field": "d", "type": "quantitative", "scale": {"domain": [0, 20], "nice": false, "zero": false}, "axis": null},
      "y": {"field": "v", "type": "quantitative", "scale": {"domain": [0, 45], "nice": false, "zero": false}, "axis": null},
      "color": {"field": "s", "type": "nominal", "scale": {"domain": ["Control","Acidification","Greenhouse"], "range": ["#0b6e3b","#2e3192","#ff1f1f"]}, "legend": null},
      "shape": {"field": "s", "type": "nominal", "scale": {"domain": ["Control","Acidification","Greenhouse"], "range": ["circle","square","triangle-up"]}, "legend": null}}},
    {"data": {"values": [{}]}, "mark": {"type": "point", "opacity": 0}, "encoding": {
      "x": {"datum": 0, "type": "quantitative", "scale": {"domain": [0, 20], "nice": false, "zero": false}, "axis": {"orient": "top", "values": [0,5,10,15,20], "labels": false, "title": null, "domain": false, "tickSize": 5}},
      "y": {"datum": 0, "type": "quantitative", "scale": {"domain": [0, 45], "nice": false, "zero": false}, "axis": {"orient": "right", "values": [0,10,20,30,40], "labels": false, "title": null, "domain": false, "tickSize": 5}}}},
    {"data": {"values": [{}]}, "mark": {"type": "text", "text": "b", "fontWeight": "bold", "fontSize": 16, "align": "left", "baseline": "alphabetic"}, "encoding": {
      "x": {"datum": 0.58, "type": "quantitative", "scale": {"domain": [0, 20], "nice": false, "zero": false}, "axis": null},
      "y": {"datum": 38.8, "type": "quantitative", "scale": {"domain": [0, 45], "nice": false, "zero": false}, "axis": null}}},
    {"data": {"values": [{}]}, "mark": {"type": "text", "text": "Gyrodinium", "font": "Liberation Serif", "fontStyle": "italic", "fontSize": 17, "align": "left", "baseline": "alphabetic"}, "encoding": {
      "x": {"datum": 1.42, "type": "quantitative", "scale": {"domain": [0, 20], "nice": false, "zero": false}, "axis": null},
      "y": {"datum": 38.8, "type": "quantitative", "scale": {"domain": [0, 45], "nice": false, "zero": false}, "axis": null}}},
    {"data": {"values": [{}]}, "mark": {"type": "text", "text": "spp.", "font": "Liberation Serif", "fontSize": 17, "align": "left", "baseline": "alphabetic"}, "encoding": {
      "x": {"datum": 5.2, "type": "quantitative", "scale": {"domain": [0, 20], "nice": false, "zero": false}, "axis": null},
      "y": {"datum": 38.8, "type": "quantitative", "scale": {"domain": [0, 45], "nice": false, "zero": false}, "axis": null}}}
   ],
   "resolve": {"axis": {"x": "independent", "y": "independent"}}
  },
  {
   "layer": [
    {"data": {"values": [{}]}, "mark": {"type": "rect", "fillOpacity": 0, "stroke": "#222", "strokeWidth": 1}, "encoding": {
      "x": {"datum": 0.5, "type": "quantitative", "scale": {"domain": [0.5, 20], "range": [49.5, 172.8], "nice": false, "zero": false}, "axis": {"orient": "bottom", "offset": -86, "values": [6, 14], "title": null, "domain": false, "tickSize": 3, "labelFontSize": 10, "labelPadding": 1}},
      "x2": {"datum": 20},
      "y": {"datum": 0, "type": "quantitative", "scale": {"domain": [0, 6], "range": [124, 46.5], "nice": false, "zero": false}, "axis": {"orient": "left", "offset": -49.5, "values": [0, 2, 4, 6], "title": null, "domain": false, "tickSize": 3, "labelFontSize": 10, "labelPadding": 2}},
      "y2": {"datum": 6}}},
    {"data": {"name": "inset"}, "transform": [{"filter": "datum.p == 'b'"}], "mark": {"type": "line", "strokeWidth": 1.8}, "encoding": {
      "x": {"field": "d", "type": "quantitative", "scale": {"domain": [0.5, 20], "range": [49.5, 172.8], "nice": false, "zero": false}, "axis": null},
      "y": {"field": "v", "type": "quantitative", "scale": {"domain": [0, 6], "range": [124, 46.5], "nice": false, "zero": false}, "axis": null},
      "stroke": {"field": "s", "type": "nominal", "scale": {"domain": ["Greenhouse","Acidification","Control"], "range": ["#ff1f1f","#2e3192","#0b6e3b"]}, "legend": null}}}
   ],
   "resolve": {"axis": {"x": "independent", "y": "independent"}}
  }
 ],
 "resolve": {"scale": {"x": "independent", "y": "independent"}, "axis": {"x": "independent", "y": "independent"}}
},
{
 "width": 467, "height": 210,
 "layer": [
  {
   "data": {"name": "main"},
   "transform": [{"filter": "datum.p == 'c'"}],
   "layer": [
    {"mark": {"type": "area", "opacity": 0.13}, "encoding": {
      "x": {"field": "d", "type": "quantitative", "scale": {"domain": [0, 20], "nice": false, "zero": false}, "axis": {"orient": "bottom", "values": [0,5,10,15,20], "labels": false, "title": null, "domain": false, "tickSize": 6}},
      "y": {"field": "lo", "type": "quantitative", "scale": {"domain": [0, 45], "nice": false, "zero": false}, "axis": {"orient": "left", "values": [0,10,20,30,40], "domain": false, "tickSize": 6, "labelPadding": 6, "title": "Cumulative abundance of major DINO species (x10\u2074 cells mL\u207b\u00b9)", "titleFontSize": 20, "titleY": 213, "titlePadding": 29}},
      "y2": {"field": "hi"},
      "fill": {"field": "s", "type": "nominal", "scale": {"domain": ["Greenhouse","Acidification","Control"], "range": ["#ff1f1f","#2e3192","#0b6e3b"]}, "legend": null}}},
    {"mark": {"type": "line", "strokeWidth": 2}, "encoding": {
      "x": {"field": "d", "type": "quantitative", "scale": {"domain": [0, 20], "nice": false, "zero": false}, "axis": null},
      "y": {"field": "v", "type": "quantitative", "scale": {"domain": [0, 45], "nice": false, "zero": false}, "axis": null},
      "stroke": {"field": "s", "type": "nominal", "scale": {"domain": ["Greenhouse","Acidification","Control"], "range": ["#ff1f1f","#2e3192","#0b6e3b"]}, "legend": null}}},
    {"mark": {"type": "point", "filled": true, "size": 90, "opacity": 1}, "encoding": {
      "x": {"field": "d", "type": "quantitative", "scale": {"domain": [0, 20], "nice": false, "zero": false}, "axis": null},
      "y": {"field": "v", "type": "quantitative", "scale": {"domain": [0, 45], "nice": false, "zero": false}, "axis": null},
      "color": {"field": "s", "type": "nominal", "scale": {"domain": ["Control","Acidification","Greenhouse"], "range": ["#0b6e3b","#2e3192","#ff1f1f"]}, "legend": null},
      "shape": {"field": "s", "type": "nominal", "scale": {"domain": ["Control","Acidification","Greenhouse"], "range": ["circle","square","triangle-up"]}, "legend": null}}},
    {"data": {"values": [{}]}, "mark": {"type": "point", "opacity": 0}, "encoding": {
      "x": {"datum": 0, "type": "quantitative", "scale": {"domain": [0, 20], "nice": false, "zero": false}, "axis": {"orient": "top", "values": [0,5,10,15,20], "labels": false, "title": null, "domain": false, "tickSize": 5}},
      "y": {"datum": 0, "type": "quantitative", "scale": {"domain": [0, 45], "nice": false, "zero": false}, "axis": {"orient": "right", "values": [0,10,20,30,40], "labels": false, "title": null, "domain": false, "tickSize": 5}}}},
    {"data": {"values": [{}]}, "mark": {"type": "text", "text": "c", "fontWeight": "bold", "fontSize": 16, "align": "left", "baseline": "alphabetic"}, "encoding": {
      "x": {"datum": 0.58, "type": "quantitative", "scale": {"domain": [0, 20], "nice": false, "zero": false}, "axis": null},
      "y": {"datum": 39.2, "type": "quantitative", "scale": {"domain": [0, 45], "nice": false, "zero": false}, "axis": null}}},
    {"data": {"values": [{}]}, "mark": {"type": "text", "text": "Protoperidinium bipes", "font": "Liberation Serif", "fontStyle": "italic", "fontSize": 17, "align": "left", "baseline": "alphabetic"}, "encoding": {
      "x": {"datum": 1.4, "type": "quantitative", "scale": {"domain": [0, 20], "nice": false, "zero": false}, "axis": null},
      "y": {"datum": 39.2, "type": "quantitative", "scale": {"domain": [0, 45], "nice": false, "zero": false}, "axis": null}}}
   ],
   "resolve": {"axis": {"x": "independent", "y": "independent"}}
  },
  {
   "layer": [
    {"data": {"values": [{}]}, "mark": {"type": "rect", "fillOpacity": 0, "stroke": "#222", "strokeWidth": 1}, "encoding": {
      "x": {"datum": 0.5, "type": "quantitative", "scale": {"domain": [0.5, 20], "range": [49.5, 172.8], "nice": false, "zero": false}, "axis": {"orient": "bottom", "offset": -86, "values": [6, 14], "title": null, "domain": false, "tickSize": 3, "labelFontSize": 10, "labelPadding": 1}},
      "x2": {"datum": 20},
      "y": {"datum": 0, "type": "quantitative", "scale": {"domain": [0, 6], "range": [124, 46.5], "nice": false, "zero": false}, "axis": {"orient": "left", "offset": -49.5, "values": [0, 2, 4, 6], "title": null, "domain": false, "tickSize": 3, "labelFontSize": 10, "labelPadding": 2}},
      "y2": {"datum": 6}}},
    {"data": {"name": "inset"}, "transform": [{"filter": "datum.p == 'c'"}], "mark": {"type": "line", "strokeWidth": 1.8}, "encoding": {
      "x": {"field": "d", "type": "quantitative", "scale": {"domain": [0.5, 20], "range": [49.5, 172.8], "nice": false, "zero": false}, "axis": null},
      "y": {"field": "v", "type": "quantitative", "scale": {"domain": [0, 6], "range": [124, 46.5], "nice": false, "zero": false}, "axis": null},
      "stroke": {"field": "s", "type": "nominal", "scale": {"domain": ["Greenhouse","Acidification","Control"], "range": ["#ff1f1f","#2e3192","#0b6e3b"]}, "legend": null}}}
   ],
   "resolve": {"axis": {"x": "independent", "y": "independent"}}
  }
 ],
 "resolve": {"scale": {"x": "independent", "y": "independent"}, "axis": {"x": "independent", "y": "independent"}}
},
{
 "width": 467, "height": 209,
 "layer": [
  {
   "data": {"name": "main"},
   "transform": [{"filter": "datum.p == 'd'"}],
   "layer": [
    {"mark": {"type": "area", "opacity": 0.13}, "encoding": {
      "x": {"field": "d", "type": "quantitative", "scale": {"domain": [0, 20], "nice": false, "zero": false}, "axis": {"orient": "bottom", "values": [0,5,10,15,20], "labels": false, "title": null, "domain": false, "tickSize": 6}},
      "y": {"field": "lo", "type": "quantitative", "scale": {"domain": [0, 20], "nice": false, "zero": false}, "axis": {"orient": "left", "values": [0,5,10,15,20], "domain": false, "tickSize": 6, "labelPadding": 6, "title": null}},
      "y2": {"field": "hi"},
      "fill": {"field": "s", "type": "nominal", "scale": {"domain": ["Greenhouse","Acidification","Control"], "range": ["#ff1f1f","#2e3192","#0b6e3b"]}, "legend": null}}},
    {"mark": {"type": "line", "strokeWidth": 2}, "encoding": {
      "x": {"field": "d", "type": "quantitative", "scale": {"domain": [0, 20], "nice": false, "zero": false}, "axis": null},
      "y": {"field": "v", "type": "quantitative", "scale": {"domain": [0, 20], "nice": false, "zero": false}, "axis": null},
      "stroke": {"field": "s", "type": "nominal", "scale": {"domain": ["Greenhouse","Acidification","Control"], "range": ["#ff1f1f","#2e3192","#0b6e3b"]}, "legend": null}}},
    {"mark": {"type": "point", "filled": true, "size": 90, "opacity": 1}, "encoding": {
      "x": {"field": "d", "type": "quantitative", "scale": {"domain": [0, 20], "nice": false, "zero": false}, "axis": null},
      "y": {"field": "v", "type": "quantitative", "scale": {"domain": [0, 20], "nice": false, "zero": false}, "axis": null},
      "color": {"field": "s", "type": "nominal", "scale": {"domain": ["Control","Acidification","Greenhouse"], "range": ["#0b6e3b","#2e3192","#ff1f1f"]}, "legend": null},
      "shape": {"field": "s", "type": "nominal", "scale": {"domain": ["Control","Acidification","Greenhouse"], "range": ["circle","square","triangle-up"]}, "legend": null}}},
    {"data": {"values": [{}]}, "mark": {"type": "point", "opacity": 0}, "encoding": {
      "x": {"datum": 0, "type": "quantitative", "scale": {"domain": [0, 20], "nice": false, "zero": false}, "axis": {"orient": "top", "values": [0,5,10,15,20], "labels": false, "title": null, "domain": false, "tickSize": 5}},
      "y": {"datum": 0, "type": "quantitative", "scale": {"domain": [0, 20], "nice": false, "zero": false}, "axis": {"orient": "right", "values": [0,5,10,15,20], "labels": false, "title": null, "domain": false, "tickSize": 5}}}},
    {"data": {"values": [{}]}, "mark": {"type": "text", "text": "d", "fontWeight": "bold", "fontSize": 16, "align": "left", "baseline": "alphabetic"}, "encoding": {
      "x": {"datum": 0.55, "type": "quantitative", "scale": {"domain": [0, 20], "nice": false, "zero": false}, "axis": null},
      "y": {"datum": 17.43, "type": "quantitative", "scale": {"domain": [0, 20], "nice": false, "zero": false}, "axis": null}}},
    {"data": {"values": [{}]}, "mark": {"type": "text", "text": "Nematodinium armatum", "font": "Liberation Serif", "fontStyle": "italic", "fontSize": 17, "align": "left", "baseline": "alphabetic"}, "encoding": {
      "x": {"datum": 1.45, "type": "quantitative", "scale": {"domain": [0, 20], "nice": false, "zero": false}, "axis": null},
      "y": {"datum": 17.43, "type": "quantitative", "scale": {"domain": [0, 20], "nice": false, "zero": false}, "axis": null}}}
   ],
   "resolve": {"axis": {"x": "independent", "y": "independent"}}
  },
  {
   "layer": [
    {"data": {"values": [{}]}, "mark": {"type": "rect", "fillOpacity": 0, "stroke": "#222", "strokeWidth": 1}, "encoding": {
      "x": {"datum": 0.5, "type": "quantitative", "scale": {"domain": [0.5, 20], "range": [49.5, 172.8], "nice": false, "zero": false}, "axis": {"orient": "bottom", "offset": -86, "values": [6, 14], "title": null, "domain": false, "tickSize": 3, "labelFontSize": 10, "labelPadding": 1}},
      "x2": {"datum": 20},
      "y": {"datum": 0, "type": "quantitative", "scale": {"domain": [0, 6], "range": [123, 45.5], "nice": false, "zero": false}, "axis": {"orient": "left", "offset": -49.5, "values": [0, 2, 4, 6], "title": null, "domain": false, "tickSize": 3, "labelFontSize": 10, "labelPadding": 2}},
      "y2": {"datum": 6}}},
    {"data": {"name": "inset"}, "transform": [{"filter": "datum.p == 'd'"}], "mark": {"type": "line", "strokeWidth": 1.8}, "encoding": {
      "x": {"field": "d", "type": "quantitative", "scale": {"domain": [0.5, 20], "range": [49.5, 172.8], "nice": false, "zero": false}, "axis": null},
      "y": {"field": "v", "type": "quantitative", "scale": {"domain": [0, 6], "range": [123, 45.5], "nice": false, "zero": false}, "axis": null},
      "stroke": {"field": "s", "type": "nominal", "scale": {"domain": ["Greenhouse","Acidification","Control"], "range": ["#ff1f1f","#2e3192","#0b6e3b"]}, "legend": null}}}
   ],
   "resolve": {"axis": {"x": "independent", "y": "independent"}}
  }
 ],
 "resolve": {"scale": {"x": "independent", "y": "independent"}, "axis": {"x": "independent", "y": "independent"}}
},
{
 "width": 467, "height": 208,
 "layer": [
  {
   "data": {"name": "main"},
   "transform": [{"filter": "datum.p == 'e'"}],
   "layer": [
    {"mark": {"type": "area", "opacity": 0.13}, "encoding": {
      "x": {"field": "d", "type": "quantitative", "scale": {"domain": [0, 20], "nice": false, "zero": false}, "axis": {"orient": "bottom", "values": [0,5,10,15,20], "title": "Days", "domain": false, "tickSize": 6, "labelPadding": 4, "labelFontSize": 15, "titleFontSize": 16, "titlePadding": 6}},
      "y": {"field": "lo", "type": "quantitative", "scale": {"domain": [0, 8], "nice": false, "zero": false}, "axis": {"orient": "left", "values": [0,2,4,6,8], "domain": false, "tickSize": 6, "labelPadding": 6, "title": null}},
      "y2": {"field": "hi"},
      "fill": {"field": "s", "type": "nominal", "scale": {"domain": ["Greenhouse","Acidification","Control"], "range": ["#ff1f1f","#2e3192","#0b6e3b"]}, "legend": null}}},
    {"mark": {"type": "line", "strokeWidth": 2}, "encoding": {
      "x": {"field": "d", "type": "quantitative", "scale": {"domain": [0, 20], "nice": false, "zero": false}, "axis": null},
      "y": {"field": "v", "type": "quantitative", "scale": {"domain": [0, 8], "nice": false, "zero": false}, "axis": null},
      "stroke": {"field": "s", "type": "nominal", "scale": {"domain": ["Greenhouse","Acidification","Control"], "range": ["#ff1f1f","#2e3192","#0b6e3b"]}, "legend": null}}},
    {"mark": {"type": "point", "filled": true, "size": 90, "opacity": 1}, "encoding": {
      "x": {"field": "d", "type": "quantitative", "scale": {"domain": [0, 20], "nice": false, "zero": false}, "axis": null},
      "y": {"field": "v", "type": "quantitative", "scale": {"domain": [0, 8], "nice": false, "zero": false}, "axis": null},
      "color": {"field": "s", "type": "nominal", "scale": {"domain": ["Control","Acidification","Greenhouse"], "range": ["#0b6e3b","#2e3192","#ff1f1f"]}, "legend": null},
      "shape": {"field": "s", "type": "nominal", "scale": {"domain": ["Control","Acidification","Greenhouse"], "range": ["circle","square","triangle-up"]}, "legend": null}}},
    {"data": {"values": [{}]}, "mark": {"type": "point", "opacity": 0}, "encoding": {
      "x": {"datum": 0, "type": "quantitative", "scale": {"domain": [0, 20], "nice": false, "zero": false}, "axis": {"orient": "top", "values": [0,5,10,15,20], "labels": false, "title": null, "domain": false, "tickSize": 5}},
      "y": {"datum": 0, "type": "quantitative", "scale": {"domain": [0, 8], "nice": false, "zero": false}, "axis": {"orient": "right", "values": [0,2,4,6,8], "labels": false, "title": null, "domain": false, "tickSize": 5}}}},
    {"data": {"values": [{}]}, "mark": {"type": "text", "text": "e", "fontWeight": "bold", "fontSize": 16, "align": "left", "baseline": "alphabetic"}, "encoding": {
      "x": {"datum": 0.55, "type": "quantitative", "scale": {"domain": [0, 20], "nice": false, "zero": false}, "axis": null},
      "y": {"datum": 6.93, "type": "quantitative", "scale": {"domain": [0, 8], "nice": false, "zero": false}, "axis": null}}},
    {"data": {"values": [{}]}, "mark": {"type": "text", "text": "Prorocentrum dentatum", "font": "Liberation Serif", "fontStyle": "italic", "fontSize": 17, "align": "left", "baseline": "alphabetic"}, "encoding": {
      "x": {"datum": 1.42, "type": "quantitative", "scale": {"domain": [0, 20], "nice": false, "zero": false}, "axis": null},
      "y": {"datum": 6.93, "type": "quantitative", "scale": {"domain": [0, 8], "nice": false, "zero": false}, "axis": null}}}
   ],
   "resolve": {"axis": {"x": "independent", "y": "independent"}}
  },
  {
   "layer": [
    {"data": {"values": [{}]}, "mark": {"type": "rect", "fillOpacity": 0, "stroke": "#222", "strokeWidth": 1}, "encoding": {
      "x": {"datum": 0.5, "type": "quantitative", "scale": {"domain": [0.5, 20], "range": [49.5, 172.8], "nice": false, "zero": false}, "axis": {"orient": "bottom", "offset": -84, "values": [6, 14], "title": null, "domain": false, "tickSize": 3, "labelFontSize": 10, "labelPadding": 1}},
      "x2": {"datum": 20},
      "y": {"datum": 0, "type": "quantitative", "scale": {"domain": [0, 6], "range": [124, 46.5], "nice": false, "zero": false}, "axis": {"orient": "left", "offset": -49.5, "values": [0, 2, 4, 6], "title": null, "domain": false, "tickSize": 3, "labelFontSize": 10, "labelPadding": 2}},
      "y2": {"datum": 6}}},
    {"data": {"name": "inset"}, "transform": [{"filter": "datum.p == 'e'"}], "mark": {"type": "line", "strokeWidth": 1.8}, "encoding": {
      "x": {"field": "d", "type": "quantitative", "scale": {"domain": [0.5, 20], "range": [49.5, 172.8], "nice": false, "zero": false}, "axis": null},
      "y": {"field": "v", "type": "quantitative", "scale": {"domain": [0, 6], "range": [124, 46.5], "nice": false, "zero": false}, "axis": null},
      "stroke": {"field": "s", "type": "nominal", "scale": {"domain": ["Greenhouse","Acidification","Control"], "range": ["#ff1f1f","#2e3192","#0b6e3b"]}, "legend": null}}}
   ],
   "resolve": {"axis": {"x": "independent", "y": "independent"}}
  }
 ],
 "resolve": {"scale": {"x": "independent", "y": "independent"}, "axis": {"x": "independent", "y": "independent"}}
}
]
}
